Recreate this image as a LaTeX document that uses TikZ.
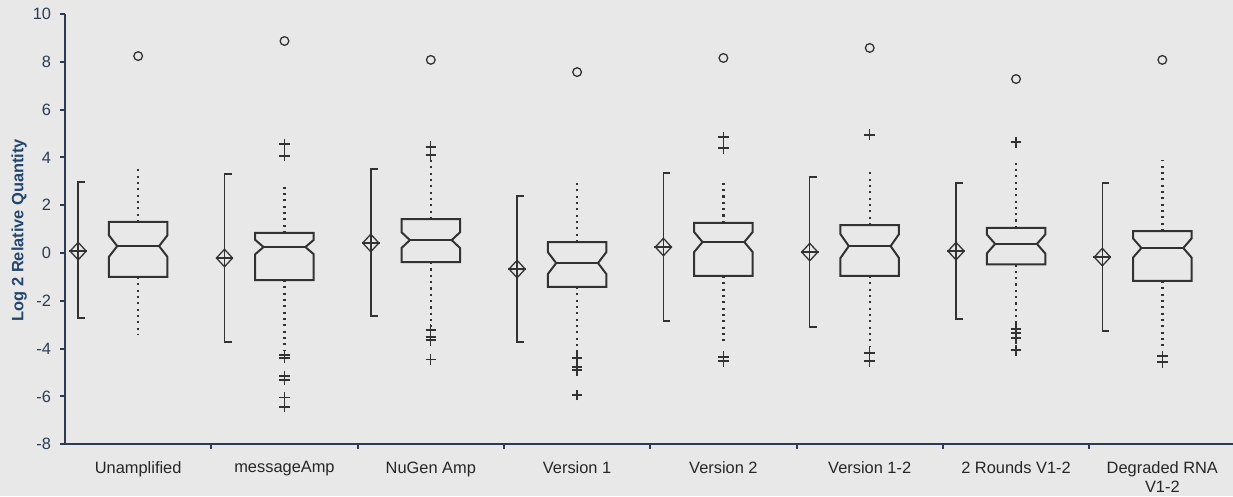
\documentclass[tikz,border=0pt]{standalone}
\usepackage{fontspec}
\setmainfont{Liberation Sans}
\usetikzlibrary{shapes.geometric}

\definecolor{pagegray}{RGB}{232,232,232}
\definecolor{axisblue}{RGB}{44,60,84}
\definecolor{titleblue}{RGB}{36,70,108}
\definecolor{boxgray}{RGB}{50,50,50}

\begin{document}
\begin{tikzpicture}[xscale=4.389, yscale=0.717, font=\fontsize{14}{16}\selectfont,
  axisline/.style={axisblue, line width=1.7pt},
  boxline/.style={boxgray, line width=1.7pt, line join=miter},
  ciline/.style={boxgray, line width=1.2pt},
  whisk/.style={boxgray, line width=2pt, dash pattern=on 1.8pt off 3.6pt},
  plusmark/.style={boxgray, line width=1.1pt},
  farout/.style={circle, draw=boxgray, line width=1.1pt, minimum size=0.26cm, inner sep=0pt},
  meanmark/.style={diamond, draw=boxgray, line width=1.1pt, minimum width=0.5cm, minimum height=0.54cm, inner sep=0pt},
  ticklab/.style={anchor=east, text=axisblue, inner sep=0pt},
  grouplab/.style={anchor=north, align=center, inner sep=0pt, text=black!85}]

\useasboundingbox (0.0557,-10.167) rectangle (8.483,10.586);
\fill[pagegray] (0.0557,-10.167) rectangle (8.483,10.586);

% axes
\draw[axisline] (0.5,10) -- (0.5,-8) -- (8.5,-8);
\foreach \v in {-8,-6,...,10}
  \draw[axisline] (0.5,\v) -- (0.466,\v) node[ticklab, xshift=-0.24cm] (t\v) {\v};
\foreach \x in {1.5,2.5,...,7.5}
  \draw[axisline] (\x,-8) -- (\x,-8.21);

\node[rotate=90, text=titleblue, font=\fontsize{14}{17}\selectfont\bfseries] (ylab) at (0.186,0.96) {Log 2 Relative Quantity};

% group / CI top / CI bottom / mean / box top / box bottom / median / notch / whisker top / whisker bottom / far outlier / label
\foreach \i/\cit/\cib/\mean/\bt/\bb/\med/\nt/\wt/\wb/\far/\lab in {
  1/2.97/-2.72/0.08/1.30/-1.00/0.29/0.45/3.56/-3.43/8.24/Unamplified,
  2/3.31/-3.72/-0.21/0.84/-1.13/0.25/0.30/2.85/-4.06/8.87/messageAmp,
  3/3.51/-2.64/0.42/1.42/-0.38/0.54/0.33/3.89/-3.10/8.08/NuGen Amp,
  4/2.38/-3.72/-0.67/0.46/-1.42/-0.42/0.46/3.05/-4.27/7.57/Version 1,
  5/3.35/-2.85/0.25/1.26/-0.96/0.46/0.42/2.93/-3.85/8.16/Version 2,
  6/3.18/-3.10/0.04/1.17/-0.96/0.29/0.50/3.47/-3.93/8.58/Version 1-2,
  7/2.93/-2.76/0.08/1.05/-0.48/0.38/0.40/3.89/-3.10/7.28/2 Rounds V1-2,
  8/2.93/-3.26/-0.17/0.92/-1.17/0.21/0.40/3.89/-4.06/8.08/{Degraded RNA\\V1-2}}
{
  % confidence interval of the mean
  \draw[ciline] ({\i-0.362},\cit) -- ({\i-0.41},\cit) -- ({\i-0.41},\cib) -- ({\i-0.362},\cib);
  \node[meanmark] (m\i) at ({\i-0.41},\mean) {};
  \draw[ciline] (m\i.west) -- (m\i.east);

  % notched box
  \draw[boxline] ({\i-0.2},\bt) -- ({\i+0.2},\bt) -- ({\i+0.2},{\med+\nt}) -- ({\i+0.143},\med)
    -- ({\i+0.2},{\med-\nt}) -- ({\i+0.2},\bb) -- ({\i-0.2},\bb) -- ({\i-0.2},{\med-\nt})
    -- ({\i-0.143},\med) -- ({\i-0.2},{\med+\nt}) -- cycle;
  \draw[boxline] ({\i-0.143},\med) -- ({\i+0.143},\med);

  % whiskers
  \draw[whisk] (\i,\bt) -- (\i,\wt);
  \draw[whisk] (\i,\bb) -- (\i,\wb);

  \node[farout] (o\i) at (\i,\far) {};
  \node[grouplab] (g\i) at (\i,-8.72) {\lab};
}

% outliers
\foreach \i/\p in {2/4.56, 2/4.06, 2/-4.27, 2/-4.39, 2/-5.15, 2/-5.31, 2/-6.03, 2/-6.44,
  3/4.44, 3/4.10, 3/-3.22, 3/-3.51, 3/-3.64, 3/-4.44,
  4/-4.39, 4/-4.77, 4/-4.90, 4/-5.94,
  5/4.85, 5/4.39, 5/-4.35, 5/-4.52,
  6/4.94, 6/-4.18, 6/-4.52,
  7/4.64, 7/-3.18, 7/-3.35, 7/-3.56, 7/-4.06,
  8/-4.31, 8/-4.56}
  \draw[plusmark] (\i,\p) +(-0.036,0) -- +(0.036,0) +(0,-0.23) -- +(0,0.23);

\end{tikzpicture}
\end{document}
